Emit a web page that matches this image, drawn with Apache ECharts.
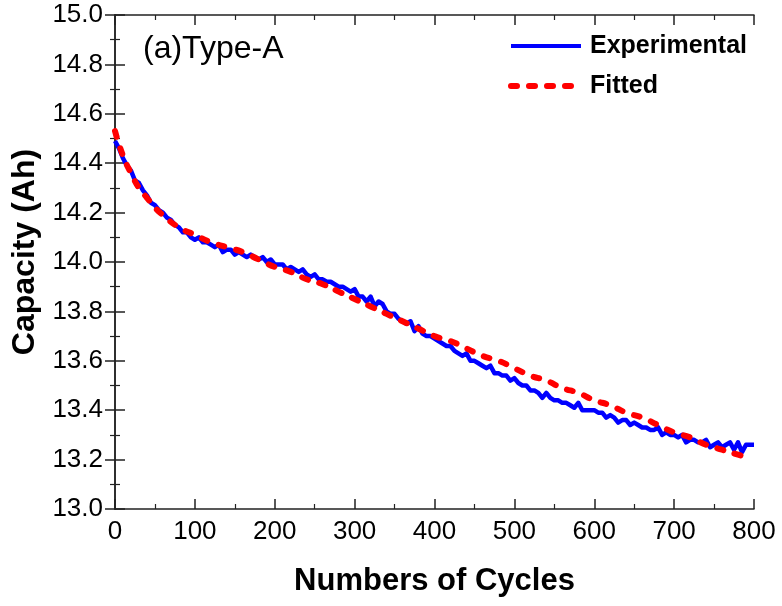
<!DOCTYPE html>
<html>
<head>
<meta charset="utf-8">
<script src="https://cdn.jsdelivr.net/npm/echarts@6/dist/echarts.min.js"></script>
<style>
html,body{margin:0;padding:0;background:#fff;}
#chart{width:782px;height:606px;}
</style>
</head>
<body>
<div id="chart"></div>
<script>
// experimental capacity, one reading every 5 cycles
var expCycles = [
    0,5,10,15,20,25,30,35,40,45,50,55,60,65,70,75,80,85,90,95,
    100,105,110,115,120,125,130,135,140,145,150,155,160,165,170,175,180,185,190,195,
    200,205,210,215,220,225,230,235,240,245,250,255,260,265,270,275,280,285,290,295,
    300,305,310,315,320,325,330,335,340,345,350,355,360,365,370,375,380,385,390,395,
    400,405,410,415,420,425,430,435,440,445,450,455,460,465,470,475,480,485,490,495,
    500,505,510,515,520,525,530,535,540,545,550,555,560,565,570,575,580,585,590,595,
    600,605,610,615,620,625,630,635,640,645,650,655,660,665,670,675,680,685,690,695,
    700,705,710,715,720,725,730,735,740,745,750,755,760,765,770,775,780,785,790,795,800
];
var expCapacity = [
    14.49,14.46,14.42,14.39,14.37,14.33,14.32,14.29,14.27,14.24,14.23,14.21,14.20,14.18,14.17,14.15,14.14,14.12,14.12,14.10,
    14.09,14.10,14.08,14.08,14.07,14.06,14.07,14.04,14.05,14.05,14.03,14.04,14.03,14.02,14.03,14.02,14.01,14.02,14.00,14.01,
    13.99,13.99,13.99,13.97,13.98,13.97,13.96,13.97,13.95,13.94,13.95,13.93,13.93,13.92,13.92,13.91,13.90,13.90,13.89,13.88,
    13.89,13.86,13.86,13.84,13.86,13.82,13.84,13.83,13.80,13.79,13.79,13.77,13.76,13.75,13.76,13.72,13.74,13.71,13.70,13.70,
    13.69,13.68,13.67,13.66,13.66,13.64,13.63,13.62,13.63,13.60,13.60,13.59,13.58,13.57,13.58,13.55,13.55,13.54,13.54,13.52,
    13.53,13.51,13.50,13.50,13.48,13.48,13.47,13.45,13.47,13.45,13.44,13.44,13.43,13.43,13.42,13.41,13.43,13.40,13.40,13.40,
    13.40,13.39,13.39,13.37,13.38,13.37,13.35,13.36,13.36,13.34,13.35,13.34,13.33,13.33,13.32,13.32,13.33,13.30,13.31,13.30,
    13.30,13.29,13.30,13.27,13.28,13.28,13.27,13.27,13.28,13.25,13.26,13.27,13.25,13.26,13.27,13.24,13.27,13.23,13.26,13.26,13.26
];
// fitted curve
var fitCycles = [0,10,20,30,40,50,60,80,100,120,140,160,180,200,220,240,260,280,300,320,340,360,380,
    400,420,440,460,480,500,520,540,560,580,600,620,640,660,680,700,720,740,760,780,790];
var fitCapacity = [14.53,14.43,14.36,14.30,14.26,14.22,14.19,14.14,14.11,14.08,14.06,14.04,14.01,13.98,13.96,13.93,13.91,13.88,13.85,13.82,13.79,13.76,13.73,
    13.70,13.68,13.65,13.62,13.60,13.57,13.54,13.52,13.49,13.47,13.44,13.42,13.39,13.37,13.34,13.31,13.29,13.26,13.24,13.22,13.21];

function pairs(xs, ys){
    var out = [];
    for(var i=0;i<xs.length;i++){ out.push([xs[i], ys[i]]); }
    return out;
}

var font = 'Arial, "Liberation Sans", sans-serif';
var axisLine = {show:true, lineStyle:{color:'#222', width:1.5}};
var tick = {show:true, inside:true, length:10, lineStyle:{color:'#222', width:1.5}};
var minor = {show:true, splitNumber:2, length:5, lineStyle:{color:'#222', width:1.2}};
var expLine = {color:'#0000ff', width:4.5, join:'round'};
var fitLine = {color:'#ff0000', width:6, type:[6,12], cap:'round'};

var chart = echarts.init(document.getElementById('chart'));
chart.setOption({
    animation:false,
    grid:{left:115, right:28, top:15, bottom:97},
    title:{text:'(a)Type-A', left:138, top:28,
        textStyle:{fontFamily:font, fontSize:32, fontWeight:'normal', color:'#000'}},
    legend:{orient:'vertical', left:503, top:27, itemWidth:70, itemHeight:14, itemGap:12,
        itemStyle:{opacity:0},
        data:[
            {name:'Experimental', lineStyle:{width:4}},
            {name:'Fitted', lineStyle:{width:6}}
        ],
        textStyle:{fontFamily:font, fontSize:25, fontWeight:'bold', color:'#000', lineHeight:28, padding:[0,0,0,4]}},
    xAxis:[{
        type:'value', min:0, max:800, interval:100,
        name:'Numbers of Cycles', nameLocation:'middle', nameGap:57,
        nameTextStyle:{fontFamily:font, fontSize:31, fontWeight:'bold', color:'#000'},
        axisLine:axisLine, axisTick:tick, minorTick:minor, splitLine:{show:false},
        axisLabel:{fontFamily:font, fontSize:26, color:'#000', margin:10}
    },{
        type:'value', position:'top', min:0, max:800, interval:100,
        axisLine:axisLine, axisTick:tick, minorTick:minor, splitLine:{show:false},
        axisLabel:{show:false}
    }],
    yAxis:[{
        type:'value', min:13.0, max:15.0, interval:0.2,
        name:'Capacity (Ah)', nameLocation:'middle', nameGap:72,
        nameTextStyle:{fontFamily:font, fontSize:32, fontWeight:'bold', color:'#000', padding:[0,0,0,20]},
        axisLine:axisLine, axisTick:tick, minorTick:minor, splitLine:{show:false},
        axisLabel:{fontFamily:font, fontSize:26, color:'#000', margin:12,
            formatter:function(v){ return v.toFixed(1); }}
    },{
        type:'value', position:'right', min:13.0, max:15.0, interval:0.2,
        axisLine:axisLine, axisTick:tick, minorTick:minor, splitLine:{show:false},
        axisLabel:{show:false}
    }],
    series:[{
        name:'Experimental', type:'line', showSymbol:false, symbol:'none',
        data:pairs(expCycles, expCapacity),
        lineStyle:expLine,
        itemStyle:{color:'#0000ff'}
    },{
        name:'Fitted', type:'line', showSymbol:false, symbol:'none', smooth:true,
        data:pairs(fitCycles, fitCapacity),
        lineStyle:fitLine,
        itemStyle:{color:'#ff0000'}
    }]
});
</script>
</body>
</html>
